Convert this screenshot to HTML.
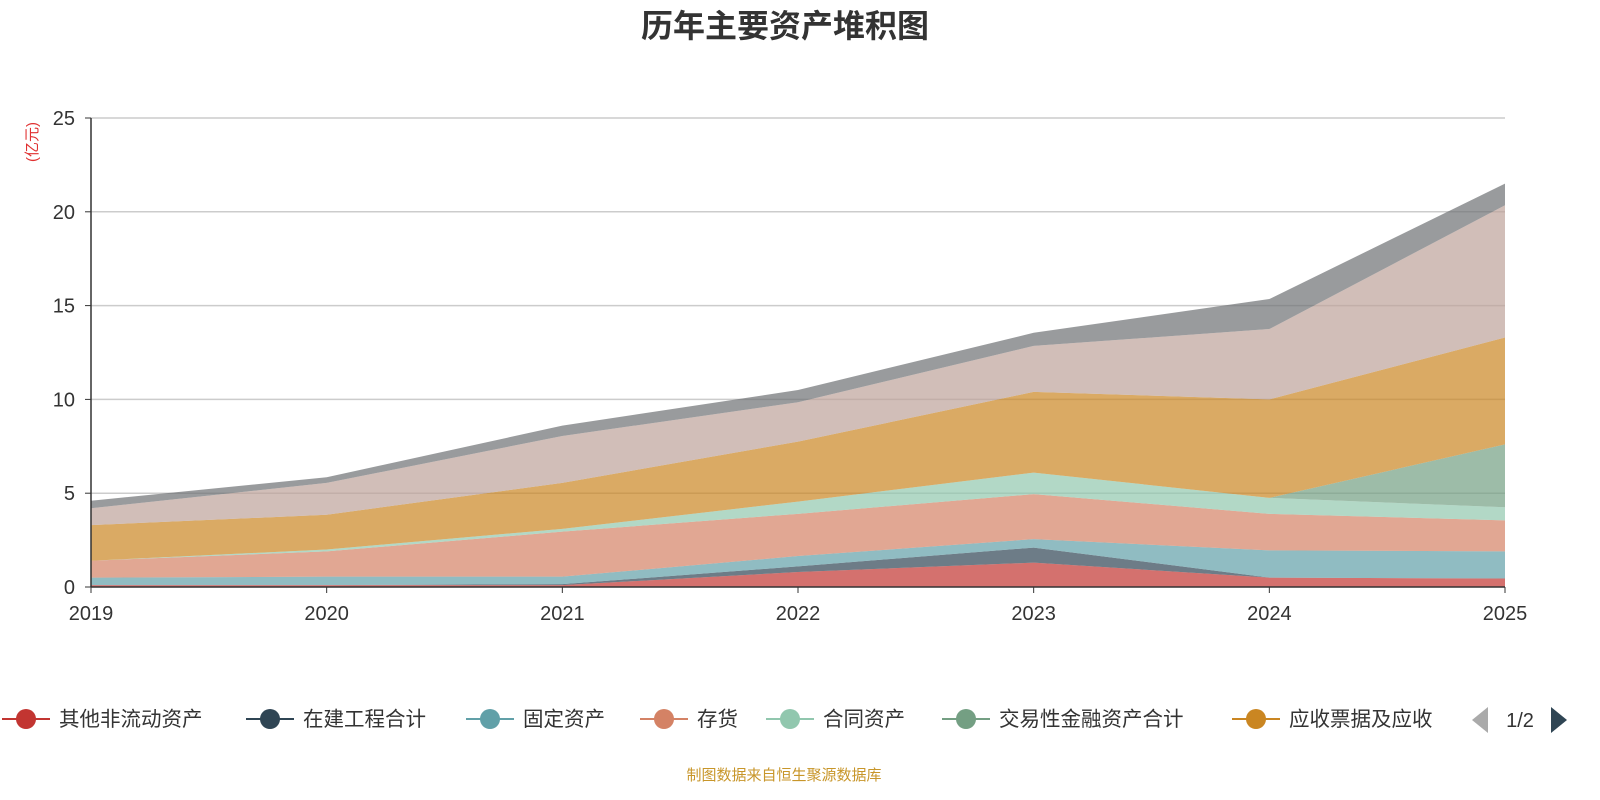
<!DOCTYPE html>
<html><head><meta charset="utf-8">
<style>
body{margin:0;background:#fff;font-family:"Liberation Sans","Noto Sans CJK SC",sans-serif;}
#wrap{position:relative;width:1600px;height:800px;overflow:hidden;}
</style></head>
<body>
<div id="wrap">
<svg id="chart" width="1600" height="800" xmlns="http://www.w3.org/2000/svg"></svg>
</div>
<script>
const years = ["2019","2020","2021","2022","2023","2024","2025"];
const seriesNames = ["其他非流动资产","在建工程合计","固定资产","存货","合同资产","交易性金融资产合计","应收票据及应收账款","应收账款","其他"];
const legendLabels = ["其他非流动资产","在建工程合计","固定资产","存货","合同资产","交易性金融资产合计","应收票据及应收"];
const sOther = [0.1,0.1,0.1,0.8,1.3,0.5,0.45];
const sConstruction = [0,0,0.05,0.3,0.8,0,0];
const sFixed = [0.4,0.45,0.4,0.55,0.45,1.45,1.45];
const sInventory = [0.9,1.35,2.4,2.25,2.4,1.95,1.65];
const sContract = [0,0.1,0.15,0.65,1.15,0.85,0.7];
const sTrading = [0,0,0,0,0,0,3.35];
const sReceivable = [1.9,1.85,2.45,3.2,4.3,5.25,5.7];
const sPink = [0.9,1.7,2.5,2.1,2.45,3.75,7.05];
const sGrey = [0.4,0.3,0.55,0.65,0.7,1.6,1.15];
const yTicks = [0,5,10,15,20,25];
const colors = ["#c23531","#2f4554","#61a0a8","#d48265","#91c7ae","#749f83","#ca8622","#bda29a","#6e7074"];
const allSeries = [sOther,sConstruction,sFixed,sInventory,sContract,sTrading,sReceivable,sPink,sGrey];

const NS="http://www.w3.org/2000/svg";
const svg=document.getElementById('chart');
const X0=91,X1=1505,Y0=587,Y1=118,YMAX=25;
const xS=i=>X0+(X1-X0)*i/(years.length-1);
const yS=v=>Y0-(Y0-Y1)*v/YMAX;
function mk(tag,attrs,parent){const e=document.createElementNS(NS,tag);for(const k in attrs)e.setAttribute(k,attrs[k]);(parent||svg).appendChild(e);return e;}

let t=mk('text',{x:785,y:37,'text-anchor':'middle','font-size':32,'font-weight':'bold',fill:'#333'});
t.textContent='历年主要资产堆积图';



yTicks.forEach(v=>{
  if(v>0){const g=mk('line',{x1:X0,x2:X1,y1:yS(v),y2:yS(v),stroke:'#ccc','stroke-width':1.5});
  
  }
  const tk=mk('line',{x1:X0-6,x2:X0,y1:yS(v),y2:yS(v),stroke:'#333'});
  
  
  const l=mk('text',{x:75,y:yS(v)+7,'text-anchor':'end','font-size':20,fill:'#333'});
  l.textContent=v;
  
  
});

let cum=years.map(()=>0);
allSeries.forEach((s,si)=>{
  const lo=cum.slice();
  cum=cum.map((c,i)=>c+s[i]);
  let d='';
  cum.forEach((c,i)=>{d+=(i?'L':'M')+xS(i)+','+yS(c);});
  for(let i=lo.length-1;i>=0;i--)d+='L'+xS(i)+','+yS(lo[i]);
  d+='Z';
  const p=mk('path',{d:d,fill:colors[si],'fill-opacity':0.7,stroke:'none'});
  
  
});

let ax=mk('line',{x1:X0,x2:X0,y1:Y1,y2:Y0,stroke:'#333','stroke-width':1.5});


ax=mk('line',{x1:X0,x2:X1,y1:Y0,y2:Y0,stroke:'#333','stroke-width':1.5});


years.forEach((y,i)=>{
  const tk=mk('line',{x1:xS(i),x2:xS(i),y1:Y0,y2:Y0+6,stroke:'#333'});
  
  
  const l=mk('text',{x:xS(i),y:620,'text-anchor':'middle','font-size':20,fill:'#333'});
  l.textContent=y;
  
  
});
let u=mk('text',{x:0,y:0,'font-size':15,fill:'#e03030',transform:'translate(37,142) rotate(-90)','text-anchor':'middle'});
u.textContent='(亿元)';



const legendX=[2,246,466,640,766,942,1232];
for(let i=0;i<7;i++){
  const g=mk('g',{});
  
  
  const x=legendX[i];
  mk('line',{x1:x,x2:x+48,y1:719,y2:719,stroke:colors[i],'stroke-width':2},g);
  mk('circle',{cx:x+24,cy:719,r:10,fill:colors[i]},g);
  const lt=mk('text',{x:x+57,y:726,'font-size':20.5,fill:'#333'},g);
  lt.textContent=legendLabels[i];
}
let pl=mk('path',{d:'M1488,707 L1472,720 L1488,733 Z',fill:'#aaa'});


let pn=mk('path',{d:'M1551,707 L1567,720 L1551,733 Z',fill:'#2f4554'});


let pg=mk('text',{x:1520,y:727,'text-anchor':'middle','font-size':20,fill:'#333'});
pg.textContent='1/2';



let src=mk('text',{x:784,y:780,'text-anchor':'middle','font-size':15,fill:'#c8962a'});
src.textContent='制图数据来自恒生聚源数据库';


</script>
</body></html>
